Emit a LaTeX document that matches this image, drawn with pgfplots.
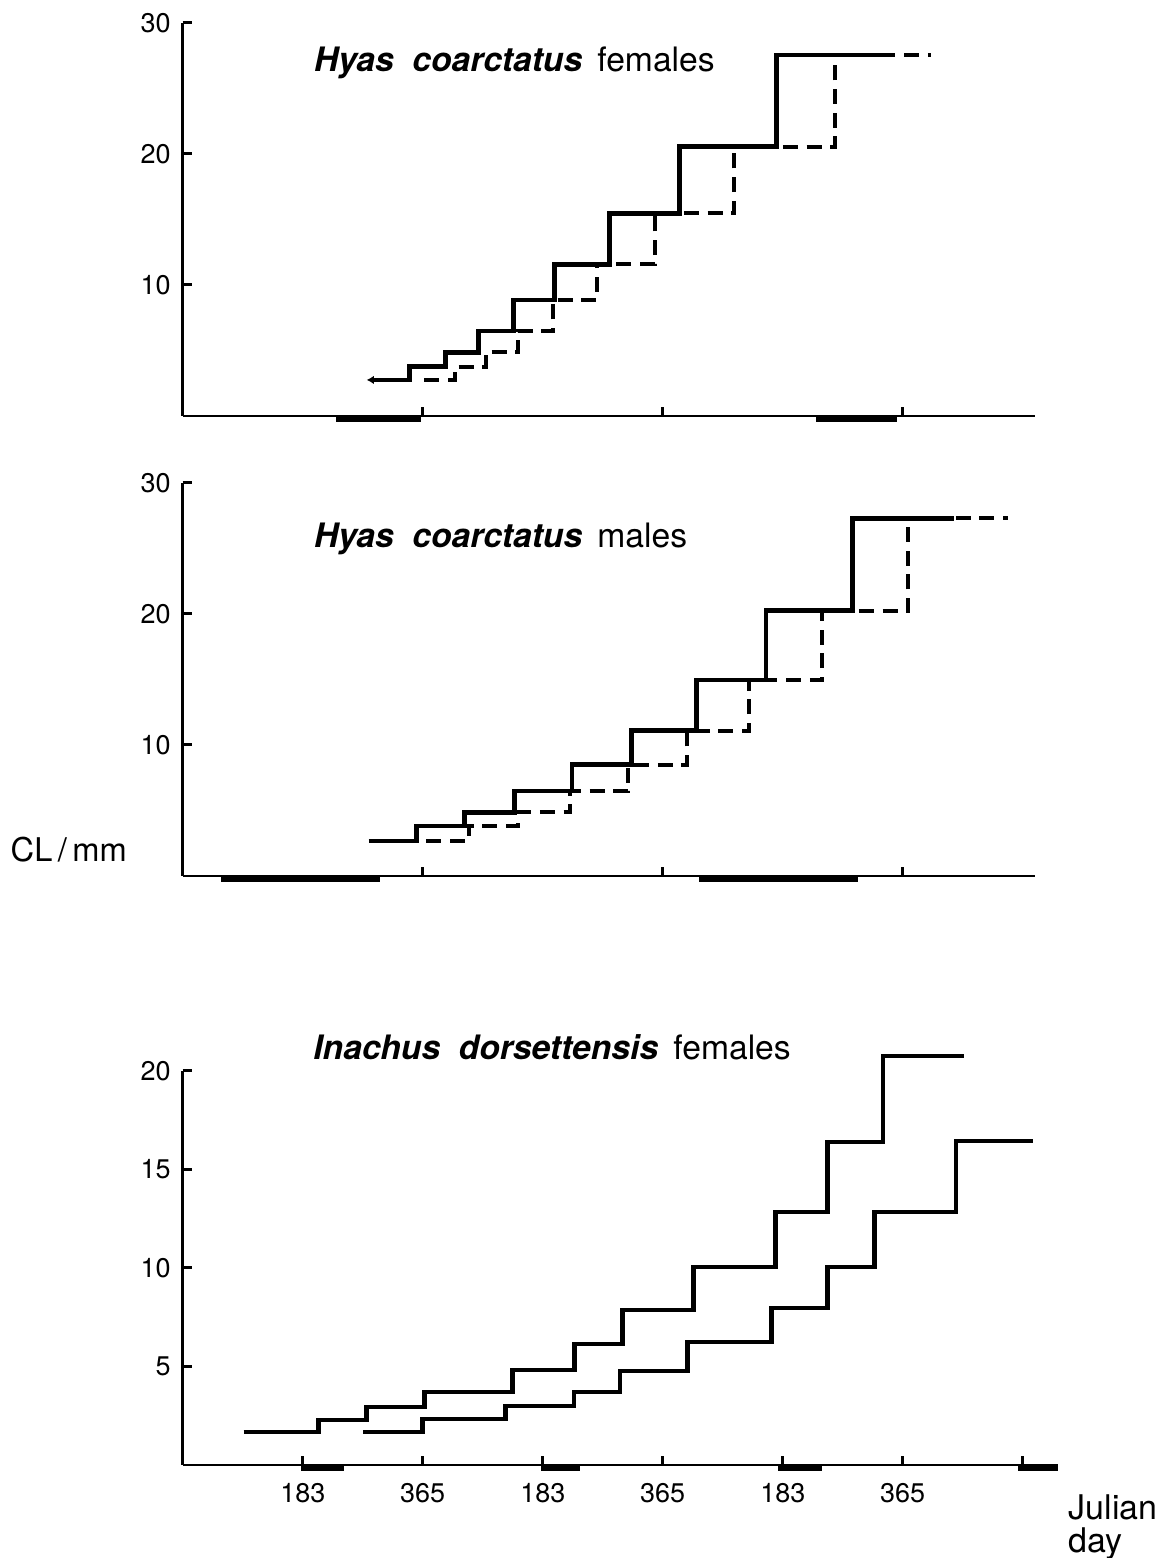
\documentclass[border=0pt]{standalone}
\usepackage{fontspec}
\setmainfont{TeX Gyre Heros}
\usepackage{pgfplots}
\pgfplotsset{compat=1.18}
\usetikzlibrary{arrows.meta}

% common look of the three growth panels (x in days, y in mm carapace length)
\pgfplotsset{
  growth/.style={
    axis lines*=left,
    x=0.19726pt,
    xmin=0, ymin=0,
    enlargelimits=false,
    clip=false,
    anchor=south west,
    tick align=inside,
    major tick length=2.7pt,
    tick style={line width=0.9pt,black},
    x axis line style={line width=0.75pt},
    y axis line style={line width=1pt},
    tick label style={font=\fontsize{8.1}{9}\selectfont},
    /pgf/number format/assume math mode=true,
  },
  molt/.style={const plot, black, line width=1.35pt, mark=none, line join=miter},
  moltdash/.style={const plot, black, line width=1.2pt, mark=none, line join=miter,
                   dash pattern=on 4.5pt off 2.6pt},
  season/.style={black, line width=1.9pt, mark=none, line cap=butt},
}
\newcommand{\titlefont}{\fontsize{10.1}{12}\selectfont}

\begin{document}
\begin{tikzpicture}
\useasboundingbox (0,0) rectangle (350.1pt,467.4pt);

% ---------- Hyas coarctatus females ----------
\begin{axis}[growth, at={(54.75pt,342.6pt)}, y=3.93pt,
  xmax=1297, ymax=30,
  xtick={365,730,1095}, xticklabels={},
  ytick={10,20,30}]
  \addplot[season] coordinates {(233,-0.23) (363,-0.23)};
  \addplot[season] coordinates {(963,-0.23) (1087,-0.23)};
  \addplot[moltdash] coordinates {
    (368,2.75) (415,3.76) (461,4.86) (510,6.49) (564,8.85) (630,11.58)
    (718,15.47) (838,20.56) (992,27.56) (1138,27.56)};
  \addplot[molt, {Latex[length=2.2pt,width=2.6pt]}-] coordinates {
    (280,2.75) (345,3.76) (400,4.86) (450,6.49) (503,8.85) (566,11.58)
    (649,15.47) (756,20.56) (903,27.56) (1081,27.56)};
  \node[anchor=base west, inner sep=0, font=\titlefont] at (axis cs:199,26.26)
    {\textbf{\textit{Hyas}}\hspace{0.55em}\textbf{\textit{coarctatus}}\hspace{0.45em}females};
\end{axis}

% ---------- Hyas coarctatus males ----------
\begin{axis}[growth, at={(54.75pt,204.6pt)}, y=3.93pt,
  xmax=1297, ymax=30,
  xtick={365,730,1095}, xticklabels={},
  ytick={10,20,30}]
  \addplot[season] coordinates {(59,-0.23) (300,-0.23)};
  \addplot[season] coordinates {(786,-0.23) (1028,-0.23)};
  \addplot[moltdash] coordinates {
    (371,2.67) (435,3.82) (510,4.85) (590,6.47) (678,8.5) (767,11.1)
    (862,14.96) (972,20.25) (1104,27.3) (1256,27.3)};
  \addplot[molt] coordinates {
    (283,2.67) (356,3.82) (429,4.85) (505,6.47) (592,8.5) (683,11.1)
    (782,14.96) (887,20.25) (1019,27.3) (1173,27.3)};
  \node[anchor=base west, inner sep=0, font=\titlefont] at (axis cs:199,25.04)
    {\textbf{\textit{Hyas}}\hspace{0.55em}\textbf{\textit{coarctatus}}\hspace{0.45em}males};
\end{axis}

% ---------- Inachus dorsettensis females ----------
\begin{axis}[growth, at={(54.75pt,27.9pt)}, y=5.91pt,
  xmax=1332, ymax=20,
  xtick={183,365,548,730,913,1095,1278},
  xticklabels={183,365,183,365,183,365,},
  xticklabel style={yshift=-2pt},
  ytick={5,10,15,20}]
  \addplot[season] coordinates {(180,-0.15) (245,-0.15)};
  \addplot[season] coordinates {(545,-0.15) (605,-0.15)};
  \addplot[season] coordinates {(905,-0.15) (973,-0.15)};
  \addplot[season] coordinates {(1271,-0.15) (1332,-0.15)};
  \addplot[molt] coordinates {
    (93,1.68) (207,2.28) (280,2.94) (368,3.7) (502,4.82) (596,6.14)
    (669,7.87) (777,10.05) (902,12.84) (981,16.4) (1065,20.76) (1188,20.76)};
  \addplot[molt] coordinates {
    (275,1.68) (365,2.33) (491,3.0) (595,3.7) (665,4.77) (768,6.24)
    (896,7.97) (981,10.05) (1052,12.84) (1176,16.45) (1294,16.45)};
  \node[anchor=base west, inner sep=0, font=\titlefont] at (axis cs:198,20.57)
    {\textbf{\textit{Inachus}}\hspace{0.55em}\textbf{\textit{dorsettensis}}\hspace{0.45em}females};
\end{axis}

% axis labels shared by the panels
\node[anchor=base west, inner sep=0, font=\fontsize{9.8}{11}\selectfont] at (3pt,208.8pt) {CL\,/\,mm};
\node[anchor=base west, inner sep=0, font=\fontsize{10.2}{11}\selectfont] at (320.4pt,11.4pt) {Julian};
\node[anchor=base west, inner sep=0, font=\fontsize{10.2}{11}\selectfont] at (320.4pt,1.6pt) {day};
\end{tikzpicture}
\end{document}
